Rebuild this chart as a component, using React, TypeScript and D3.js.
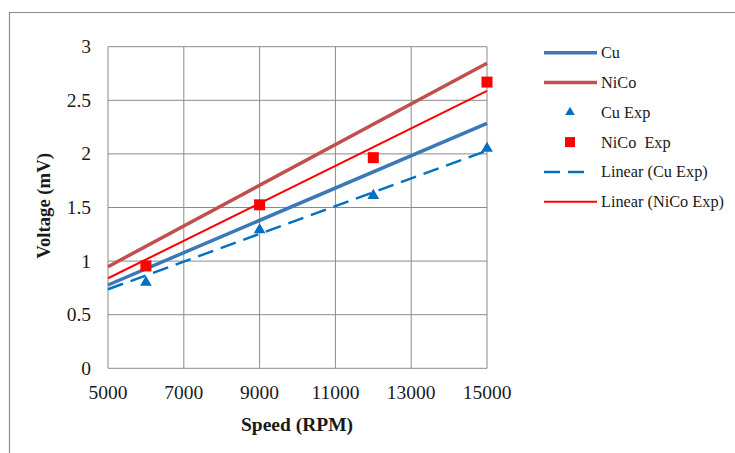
import React from "react";
import * as d3 from "d3";

const xTicks = [5000, 7000, 9000, 11000, 13000, 15000];
const yTicks = [0, 0.5, 1, 1.5, 2, 2.5, 3];
const expSpeeds = [6000, 9000, 12000, 15000];
const cuExp = [0.81, 1.3, 1.62, 2.06];
const nicoExp = [0.955, 1.525, 1.965, 2.67];
const lineSpeeds = [5000, 15000];
const cuTheory = [0.777, 2.285];
const nicoTheory = [0.948, 2.845];
const cuExpTrend = [0.737, 2.03];
const nicoExpTrend = [0.84, 2.587];

const legendLabels = ["Cu", "NiCo", "Cu Exp", "NiCo  Exp", "Linear (Cu Exp)", "Linear (NiCo Exp)"];

const W = 735;
const H = 453;
const FONT = "'Liberation Serif', 'Times New Roman', serif";

export default function App() {
  const x = d3.scaleLinear().domain([5000, 15000]).range([108, 487]);
  const y = d3.scaleLinear().domain([0, 3]).range([368.3, 46.7]);
  const line = d3
    .line<[number, number]>()
    .x((d) => x(d[0]))
    .y((d) => y(d[1]));
  const pts = (vals: number[], xs: number[]) => xs.map((s, i) => [s, vals[i]] as [number, number]);
  const tri = d3.symbol().type(d3.symbolTriangle).size(60)();

  const legendY = (i: number) => 52.7 + i * 29.8;

  return (
    <svg width={W} height={H} style={{ position: "absolute", left: 0, top: 0, background: "#fff" }}>
      <rect x={0} y={0} width={W} height={H} fill="#fff" />
      <path d={`M9.5,${H} V12.5 H${W}`} fill="none" stroke="#8c8c8c" strokeWidth={1.2} />
      {/* grid */}
      {xTicks.map((t) => (
        <line key={"gx" + t} x1={x(t)} x2={x(t)} y1={y(0)} y2={y(3)} stroke="#8a8a8a" strokeWidth={1} />
      ))}
      {yTicks.map((t) => (
        <line key={"gy" + t} x1={x(5000)} x2={x(15000)} y1={y(t)} y2={y(t)} stroke="#8a8a8a" strokeWidth={1} />
      ))}
      {/* tick labels */}
      {yTicks.map((t) => (
        <text key={"ty" + t} x={91} y={y(t) + 6.5} textAnchor="end" fontFamily={FONT} fontSize={19.5} fill="#1a1a1a">
          {String(t)}
        </text>
      ))}
      {xTicks.map((t) => (
        <text key={"tx" + t} x={x(t)} y={398.5} textAnchor="middle" fontFamily={FONT} fontSize={19.5} fill="#1a1a1a">
          {String(t)}
        </text>
      ))}
      <text x={297} y={431} textAnchor="middle" fontFamily={FONT} fontSize={19.5} fontWeight="bold" fill="#1a1a1a">
        Speed (RPM)
      </text>
      <text
        transform={`translate(50,${206}) rotate(-90)`}
        textAnchor="middle"
        fontFamily={FONT}
        fontSize={18.7}
        fontWeight="bold"
        fill="#1a1a1a"
        style={{ whiteSpace: "pre" }}
      >
        Voltage (mV)
      </text>
      {/* lines */}
      <path d={line(pts(nicoTheory, lineSpeeds)) || ""} stroke="#c0504d" strokeWidth={3.5} fill="none" />
      <path d={line(pts(cuTheory, lineSpeeds)) || ""} stroke="#3a78b8" strokeWidth={3.5} fill="none" />
      <path d={line(pts(nicoExpTrend, lineSpeeds)) || ""} stroke="#ff0000" strokeWidth={2} fill="none" />
      <path
        d={line(pts(cuExpTrend, lineSpeeds)) || ""}
        stroke="#0070c0"
        strokeWidth={2.5}
        strokeDasharray="16,8"
        fill="none"
      />
      {/* markers */}
      {expSpeeds.map((s, i) => (
        <path key={"ct" + s} d={tri || ""} transform={`translate(${x(s)},${y(cuExp[i]) + 1})`} fill="#0070c0" />
      ))}
      {expSpeeds.map((s, i) => (
        <rect key={"ns" + s} x={x(s) - 5.5} y={y(nicoExp[i]) - 5.5} width={11} height={11} fill="#ff0000" />
      ))}
      {/* legend */}
      <g fontFamily={FONT} fontSize={16.3} fill="#1a1a1a">
        <line x1={544} x2={597} y1={legendY(0)} y2={legendY(0)} stroke="#3a78b8" strokeWidth={3.5} />
        <line x1={544} x2={597} y1={legendY(1)} y2={legendY(1)} stroke="#c0504d" strokeWidth={3.5} />
        <path d={d3.symbol().type(d3.symbolTriangle).size(40)() || ""} transform={`translate(570,${legendY(2)})`} fill="#0070c0" />
        <rect x={565} y={legendY(3) - 5} width={10} height={10} fill="#ff0000" />
        <line x1={544} x2={592} y1={legendY(4)} y2={legendY(4)} stroke="#0070c0" strokeWidth={2.5} strokeDasharray="16,8" />
        <line x1={544} x2={597} y1={legendY(5)} y2={legendY(5)} stroke="#ff0000" strokeWidth={2} />
        {legendLabels.map((l, i) => (
          <text key={l} x={601} y={legendY(i) + 5.5} style={{ whiteSpace: "pre" }}>
            {l}
          </text>
        ))}
      </g>
    </svg>
  );
}
